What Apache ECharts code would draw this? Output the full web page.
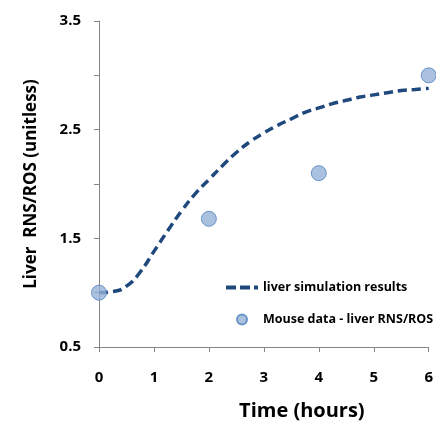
<!DOCTYPE html>
<html>
<head>
    <meta charset="UTF-8">
    <title>Liver RNS/ROS</title>
    <script src="https://cdn.jsdelivr.net/npm/echarts/dist/echarts.min.js"></script>
    <style>
        body { margin: 0; background: #fff; }
        #main { width: 436px; height: 426px; }
    </style>
</head>
<body>
    <div id="main"></div>
    <script type="text/javascript">
        // simulation curve
        const simTime = [0, 0.25, 0.5, 0.75, 1, 1.25, 1.5, 1.75, 2, 2.25, 2.5, 2.75, 3,
                         3.25, 3.5, 3.75, 4, 4.25, 4.5, 4.75, 5, 5.25, 5.5, 5.75, 6];
        const simValue = [1.0, 1.01, 1.06, 1.19, 1.38, 1.57, 1.75, 1.91, 2.04, 2.17, 2.29, 2.39, 2.47,
                          2.54, 2.60, 2.66, 2.70, 2.74, 2.77, 2.80, 2.82, 2.84, 2.86, 2.87, 2.88];
        // mouse measurements
        const mouseTime = [0, 2, 4, 6];
        const mouseValue = [1.0, 1.68, 2.1, 3.0];

        const font = 'Open Sans';
        var myChart = echarts.init(document.getElementById('main'));

        var option = {
            animation: false,
            grid: { left: 99, right: 7, top: 21, bottom: 78 },
            legend: {
                orient: 'vertical',
                left: 226,
                top: 281,
                padding: 0,
                itemWidth: 32,
                itemHeight: 10,
                itemGap: 19,
                textStyle: { fontFamily: font, fontWeight: 'bold', fontSize: 12.5, color: '#000' },
                data: [
                    {
                        name: 'liver simulation results',
                        // dashed line glyph for the legend
                        icon: 'path://M0,0h10v4h-10z M14,0h10v4h-10z M28,0h4v4h-4z'
                    },
                    { name: 'Mouse data - liver RNS/ROS', icon: 'circle' }
                ]
            },
            xAxis: {
                type: 'value',
                min: 0,
                max: 6,
                interval: 1,
                name: 'Time (hours)',
                nameLocation: 'middle',
                nameGap: 54,
                nameTextStyle: { fontFamily: font, fontWeight: 'bold', fontSize: 20, color: '#000', padding: [0, 0, 0, 76] },
                axisLine: { lineStyle: { color: '#868686', width: 1 } },
                axisTick: { length: 5, lineStyle: { color: '#868686' } },
                axisLabel: { fontFamily: font, fontWeight: 'bold', fontSize: 15, color: '#000', margin: 23 },
                splitLine: { show: false }
            },
            yAxis: {
                type: 'value',
                min: 0.5,
                max: 3.5,
                interval: 0.5,
                name: 'Liver  RNS/ROS (unitless)',
                nameLocation: 'middle',
                nameGap: 59,
                nameTextStyle: { fontFamily: font, fontWeight: 'bold', fontSize: 17, color: '#000' },
                axisLine: { show: true, lineStyle: { color: '#868686', width: 1 } },
                axisTick: { show: true, length: 5, lineStyle: { color: '#868686' } },
                axisLabel: {
                    fontFamily: font, fontWeight: 'bold', fontSize: 15, color: '#000', margin: 18,
                    formatter: function (v) {
                        return Math.abs((v - 0.5) % 1) < 1e-6 ? v.toFixed(1) : '';
                    }
                },
                splitLine: { show: false }
            },
            series: [
                {
                    name: 'liver simulation results',
                    type: 'line',
                    smooth: true,
                    showSymbol: false,
                    symbol: 'none',
                    lineStyle: { color: '#1f497d', width: 3.5, type: [9, 5] },
                    itemStyle: { color: '#1f497d' },
                    data: simTime.map((t, i) => [t, simValue[i]]),
                    z: 2
                },
                {
                    name: 'Mouse data - liver RNS/ROS',
                    type: 'scatter',
                    symbolSize: 15,
                    itemStyle: { color: '#95b3d7', borderColor: '#4f81bd', borderWidth: 1 },
                    data: mouseTime.map((t, i) => [t, mouseValue[i]]),
                    z: 3
                }
            ]
        };

        myChart.setOption(option);
    </script>
</body>
</html>
